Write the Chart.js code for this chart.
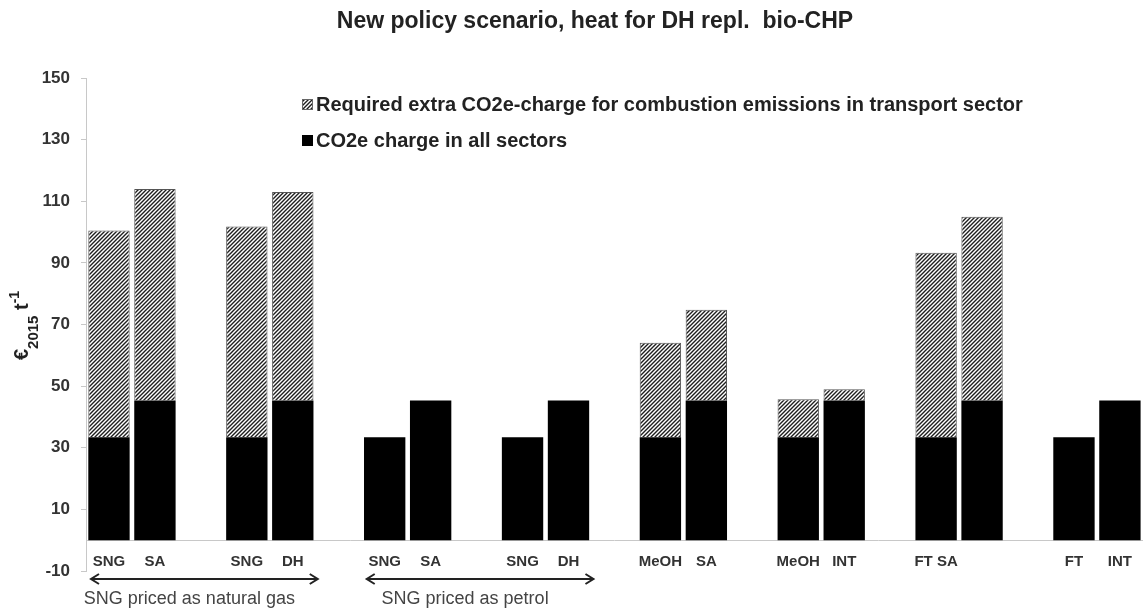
<!DOCTYPE html>
<html>
<head>
<meta charset="utf-8">
<script src="https://cdn.jsdelivr.net/npm/chart.js@4.4.1/dist/chart.umd.min.js"></script>
<style>
  html, body { margin: 0; padding: 0; background: #fff; }
  #wrap { position: relative; width: 1145px; height: 609px; }
</style>
</head>
<body>
<div id="wrap"><canvas id="co2Chart"></canvas></div>
<script>
// --- 1. DATA ---
const chartTitle = "New policy scenario, heat for DH repl.  bio-CHP";

// one slot per bar, empty slots separate the pairs
const categories = [
  "SNG", "SA", "", "SNG", "DH", "",
  "SNG", "SA", "", "SNG", "DH", "",
  "MeOH", "SA", "", "MeOH", "INT", "",
  "FT SA", "", "", "FT", "INT",
];

// CO2e charge in all sectors (black)
const baseCharge = [
  33.4, 45.3, null, 33.4, 45.3, null,
  33.4, 45.3, null, 33.4, 45.3, null,
  33.4, 45.3, null, 33.4, 45.3, null,
  33.4, 45.3, null, 33.4, 45.3,
];

// Required extra charge for transport combustion emissions (hatched)
const extraCharge = [
  67.1, 68.7, null, 68.4, 67.7, null,
  null, null, null, null, null, null,
  30.7, 29.5, null, 12.3, 3.7, null,
  59.9, 59.7, null, null, null,
];

const seriesNames = [
  "Required extra CO2e-charge for combustion emissions in transport sector",
  "CO2e charge in all sectors",
];

const yTicks = [-10, 10, 30, 50, 70, 90, 110, 130, 150];

// arrows under the x axis (first and last slot index covered)
const pricingNotes = [
  { text: "SNG priced as natural gas", from: 0, to: 4 },
  { text: "SNG priced as petrol", from: 6, to: 10 },
];

// --- 2. HELPERS ---
const FONT = '"Liberation Sans", Arial, Helvetica, sans-serif';

function makeHatch() {
  const c = document.createElement("canvas");
  c.width = 4;
  c.height = 4;
  const g = c.getContext("2d");
  g.fillStyle = "#ffffff";
  g.fillRect(0, 0, 4, 4);
  g.strokeStyle = "#1e1e1e";
  g.lineWidth = 1.4;
  g.beginPath();
  g.moveTo(-1, 5); g.lineTo(5, -1);
  g.moveTo(-1, 1); g.lineTo(1, -1);
  g.moveTo(3, 5); g.lineTo(5, 3);
  g.stroke();
  return g.createPattern(c, "repeat");
}
const hatch = makeHatch();

function drawArrow(ctx, x1, x2, yy) {
  ctx.beginPath();
  ctx.moveTo(x1, yy); ctx.lineTo(x2, yy);
  ctx.moveTo(x1 + 8, yy - 5); ctx.lineTo(x1, yy); ctx.lineTo(x1 + 8, yy + 5);
  ctx.moveTo(x2 - 8, yy - 5); ctx.lineTo(x2, yy); ctx.lineTo(x2 - 8, yy + 5);
  ctx.stroke();
}

function drawYTitle(ctx, cx, cy) {
  const parts = [
    { t: "€", size: 20, dy: 0 },
    { t: "2015", size: 15, dy: 10 },
    { t: " t", size: 20, dy: 0 },
    { t: "-1", size: 14, dy: -9 },
  ];
  ctx.save();
  ctx.translate(cx, cy);
  ctx.rotate(-Math.PI / 2);
  ctx.textAlign = "left";
  ctx.textBaseline = "alphabetic";
  let total = 0;
  parts.forEach((p) => {
    ctx.font = `bold ${p.size}px ${FONT}`;
    p.w = ctx.measureText(p.t).width;
    total += p.w;
  });
  let xx = -total / 2;
  parts.forEach((p) => {
    ctx.font = `bold ${p.size}px ${FONT}`;
    ctx.fillText(p.t, xx, p.dy);
    xx += p.w;
  });
  ctx.restore();
}

// title, legend, axis title and the pricing arrows
const decorPlugin = {
  id: "decor",
  afterDraw(chart) {
    const { ctx, chartArea, scales } = chart;
    const x = scales.x;
    ctx.save();
    ctx.fillStyle = "#222";

    ctx.font = `bold 23px ${FONT}`;
    ctx.textAlign = "center";
    ctx.textBaseline = "alphabetic";
    ctx.fillText(chartTitle, 595, 28);

    // legend
    const lx = chartArea.left + 216;
    ctx.font = `bold 20px ${FONT}`;
    ctx.textAlign = "left";
    ctx.fillStyle = hatch;
    ctx.fillRect(lx, 99, 11, 11);
    ctx.strokeStyle = "#666";
    ctx.lineWidth = 1;
    ctx.strokeRect(lx + 0.5, 99.5, 10, 10);
    ctx.fillStyle = "#222";
    ctx.fillText(seriesNames[0], lx + 14, 111);
    ctx.fillStyle = "#000";
    ctx.fillRect(lx, 135, 11, 11);
    ctx.fillStyle = "#222";
    ctx.fillText(seriesNames[1], lx + 14, 147);

    drawYTitle(ctx, 28, (chartArea.top + chartArea.bottom) / 2 + 1);

    // arrows + notes
    const slot = x.getPixelForValue(1) - x.getPixelForValue(0);
    ctx.strokeStyle = "#222";
    ctx.lineWidth = 2;
    ctx.font = `18px ${FONT}`;
    ctx.textAlign = "center";
    pricingNotes.forEach((n) => {
      const x1 = x.getPixelForValue(n.from) - slot / 2 + 5;
      const x2 = x.getPixelForValue(n.to) + slot / 2 + 2;
      drawArrow(ctx, x1, x2, chartArea.bottom + 8);
      ctx.fillStyle = "#444";
      ctx.fillText(n.text, (x1 + x2) / 2 - 15, chartArea.bottom + 33);
    });
    ctx.restore();
  },
};

// --- 3. CHART ---
new Chart(document.getElementById("co2Chart"), {
  type: "bar",
  data: {
    labels: categories,
    datasets: [
      {
        label: seriesNames[1],
        data: baseCharge,
        backgroundColor: "#000000",
        borderWidth: 0,
        barPercentage: 0.9,
        categoryPercentage: 1,
      },
      {
        label: seriesNames[0],
        data: extraCharge,
        backgroundColor: hatch,
        borderColor: "#555",
        borderWidth: 1,
        barPercentage: 0.9,
        categoryPercentage: 1,
      },
    ],
  },
  options: {
    responsive: true,
    maintainAspectRatio: false,
    animation: false,
    layout: { padding: { top: 78, bottom: 38, left: 0, right: 0 } },
    plugins: {
      legend: { display: false },
      title: { display: false },
      tooltip: { enabled: false },
    },
    scales: {
      x: {
        stacked: true,
        offset: true,
        position: { y: 0 },
        grid: { display: false, drawTicks: false },
        border: { display: true, color: "#c8c8c8" },
        ticks: {
          autoSkip: false,
          maxRotation: 0,
          padding: 13,
          color: "#333",
          font: { family: FONT, size: 15, weight: "bold" },
        },
      },
      y: {
        stacked: true,
        min: -10,
        max: 150,
        afterBuildTicks: (s) => {
          s.ticks = yTicks.map((v) => ({ value: v }));
        },
        afterFit: (s) => {
          s.width = 86;
        },
        grid: { drawOnChartArea: false, tickLength: 5, color: "#c8c8c8" },
        border: { color: "#c8c8c8" },
        ticks: {
          padding: 11,
          color: "#333",
          font: { family: FONT, size: 17, weight: "bold" },
        },
      },
    },
  },
  plugins: [decorPlugin],
});
</script>
</body>
</html>
